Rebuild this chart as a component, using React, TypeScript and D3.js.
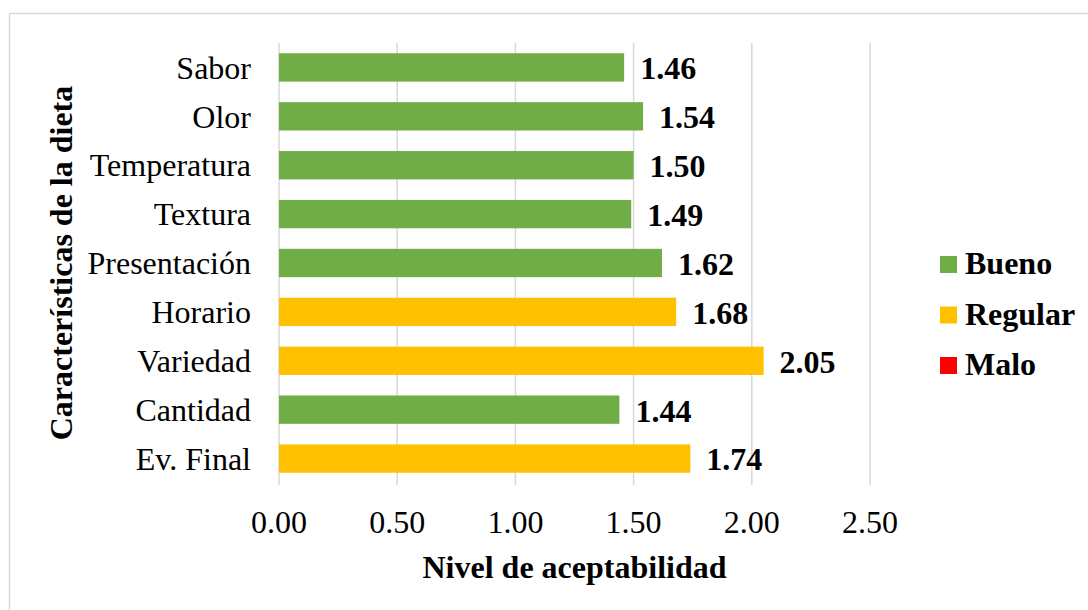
import React from "react";
import * as d3 from "d3";

// Diet characteristics and their acceptability scores
const categories = [
  "Sabor",
  "Olor",
  "Temperatura",
  "Textura",
  "Presentación",
  "Horario",
  "Variedad",
  "Cantidad",
  "Ev. Final",
];
const values = [1.46, 1.54, 1.5, 1.49, 1.62, 1.68, 2.05, 1.44, 1.74];
const ratings = ["Bueno", "Bueno", "Bueno", "Bueno", "Bueno", "Regular", "Regular", "Bueno", "Regular"];

const legendLabels = ["Bueno", "Regular", "Malo"];
const legendColors = ["#70AD47", "#FFC000", "#FF0000"];
const xTicks = [0, 0.5, 1, 1.5, 2, 2.5];

const W = 1088;
const H = 610;
const FONT = "'Liberation Serif', 'Times New Roman', serif";
const FS = 32;

export default function App() {
  const x = d3.scaleLinear().domain([0, 2.5]).range([279, 870]);
  const y = d3.scaleBand<string>().domain(categories).range([43, 483]).paddingInner(0.42).paddingOuter(0.21);
  const color = d3.scaleOrdinal<string, string>().domain(legendLabels).range(legendColors);
  const fmt = d3.format(".2f");

  return (
    <div style={{ position: "absolute", left: 0, top: 0 }}>
      <svg width={W} height={H} style={{ display: "block", background: "#fff" }} fontFamily={FONT}>
        {/* chart frame */}
        <line x1={9.5} x2={W} y1={13.5} y2={13.5} stroke="#d9d9d9" strokeWidth={1.5} />
        <line x1={9.5} x2={9.5} y1={13.5} y2={H} stroke="#d9d9d9" strokeWidth={1.5} />

        {/* vertical gridlines */}
        {xTicks.map((t) => (
          <line key={t} x1={x(t)} x2={x(t)} y1={43} y2={485} stroke="#d9d9d9" strokeWidth={1.5} />
        ))}

        {/* bars */}
        {categories.map((c, i) => (
          <rect
            key={c}
            x={x(0)}
            y={y(c)}
            width={x(values[i]) - x(0)}
            height={y.bandwidth()}
            fill={color(ratings[i])}
          />
        ))}

        {/* value labels */}
        {categories.map((c, i) => (
          <text
            key={c}
            x={x(values[i]) + 16}
            y={(y(c) as number) + y.bandwidth() / 2}
            dy="0.37em"
            fontSize={FS}
            fontWeight="bold"
            fill="#000"
          >
            {fmt(values[i])}
          </text>
        ))}

        {/* category labels */}
        {categories.map((c) => (
          <text
            key={c}
            x={251}
            y={(y(c) as number) + y.bandwidth() / 2}
            dy="0.35em"
            fontSize={FS}
            textAnchor="end"
            fill="#000"
          >
            {c}
          </text>
        ))}

        {/* x tick labels */}
        {xTicks.map((t) => (
          <text key={t} x={x(t)} y={533} fontSize={FS} textAnchor="middle" fill="#000">
            {fmt(t)}
          </text>
        ))}

        {/* axis titles */}
        <text x={(x(0) + x(2.5)) / 2} y={578} fontSize={FS} fontWeight="bold" textAnchor="middle" fill="#000">
          Nivel de aceptabilidad
        </text>
        <text
          transform={`translate(72, 263) rotate(-90)`}
          fontSize={FS}
          fontWeight="bold"
          textAnchor="middle"
          fill="#000"
        >
          Características de la dieta
        </text>

        {/* legend */}
        {legendLabels.map((l, i) => (
          <g key={l} transform={`translate(940, ${256 + i * 50.5})`}>
            <rect x={0} y={0} width={17} height={17} fill={color(l)} />
            <text x={25} y={18} fontSize={FS} fontWeight="bold" fill="#000">
              {l}
            </text>
          </g>
        ))}
      </svg>
    </div>
  );
}
